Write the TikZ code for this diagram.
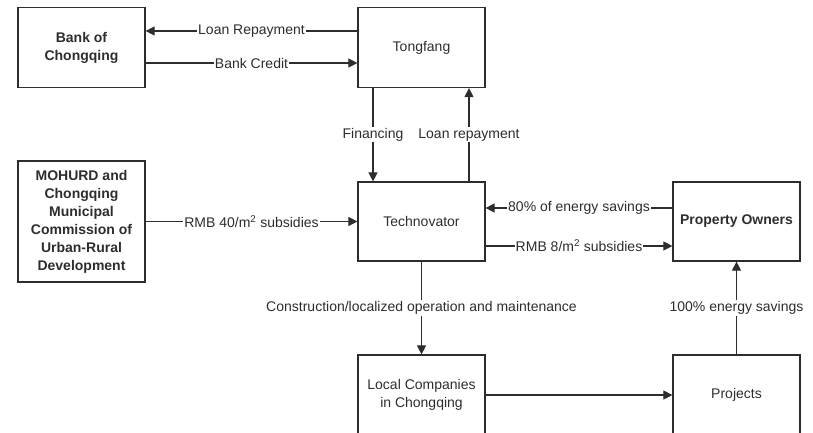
\documentclass[tikz,border=0pt]{standalone}
\usepackage{fontspec}
\setmainfont{Liberation Sans}
\usetikzlibrary{arrows.meta}
\definecolor{lcol}{RGB}{45,45,45}
\tikzset{every picture/.style={x=1pt,y=-1pt}}
\tikzset{box/.style={draw=lcol,line width=1.2pt,minimum width=127,minimum height=80,align=center,text=lcol,font=\fontsize{14}{18}\selectfont}}
\tikzset{strong/.style={font=\fontsize{14}{18}\selectfont\bfseries}}
\tikzset{edge/.style={draw=lcol,line width=1.1pt,-{Triangle[length=9pt,width=9pt]}}}
\tikzset{lbl/.style={fill=white,text=lcol,inner sep=1pt,font=\fontsize{14}{16}\selectfont}}

\begin{document}
\begin{tikzpicture}
\useasboundingbox (0,0) rectangle (813,432);
\clip (0,0) rectangle (813,432);

\node [box,strong] (bank) at (81.5,47.5) {Bank of\\Chongqing};
\node [box] (tongfang) at (421.5,47.5) {Tongfang};

\node [box,strong,minimum height=121] (mohurd) at (81.5,221.5) {MOHURD and\\Chongqing\\Municipal\\Commission of\\Urban-Rural\\Development};
\node [box,minimum height=79] (techno) at (421.5,221.5) {Technovator};
\node [box,strong,minimum height=79] (owners) at (736.5,221.5) {Property Owners};

\node [box] (local) at (421.5,395) {Local Companies\\in Chongqing};
\node [box] (projects) at (736.5,395) {Projects};

\draw [edge] ([yshift=16.5]tongfang.west) -- node [lbl] {Loan Repayment} ([yshift=16.5]bank.east);
\draw [edge] ([yshift=-15.5]bank.east) -- node [lbl] {Bank Credit} ([yshift=-15.5]tongfang.west);

\draw [edge] ([xshift=-48.5]tongfang.south) -- node [lbl] {Financing} ([xshift=-48.5]techno.north);
\draw [edge] ([xshift=47.5]techno.north) -- node [lbl] {Loan repayment} ([xshift=47.5]tongfang.south);

\draw [edge] (mohurd.east) -- node [lbl] {RMB 40/m\textsuperscript{2} subsidies} (techno.west);

\draw [edge] ([yshift=13.5]owners.west) -- node [lbl] {80\% of energy savings} ([yshift=13.5]techno.east);
\draw [edge] ([yshift=-24.5]techno.east) -- node [lbl] {RMB 8/m\textsuperscript{2} subsidies} ([yshift=-24.5]owners.west);

\draw [edge] (techno.south) -- node [lbl] {Construction/localized operation and maintenance} (local.north);
\draw [edge] (local.east) -- (projects.west);
\draw [edge] (projects.north) -- node [lbl] {100\% energy savings} (owners.south);
\end{tikzpicture}
\end{document}
